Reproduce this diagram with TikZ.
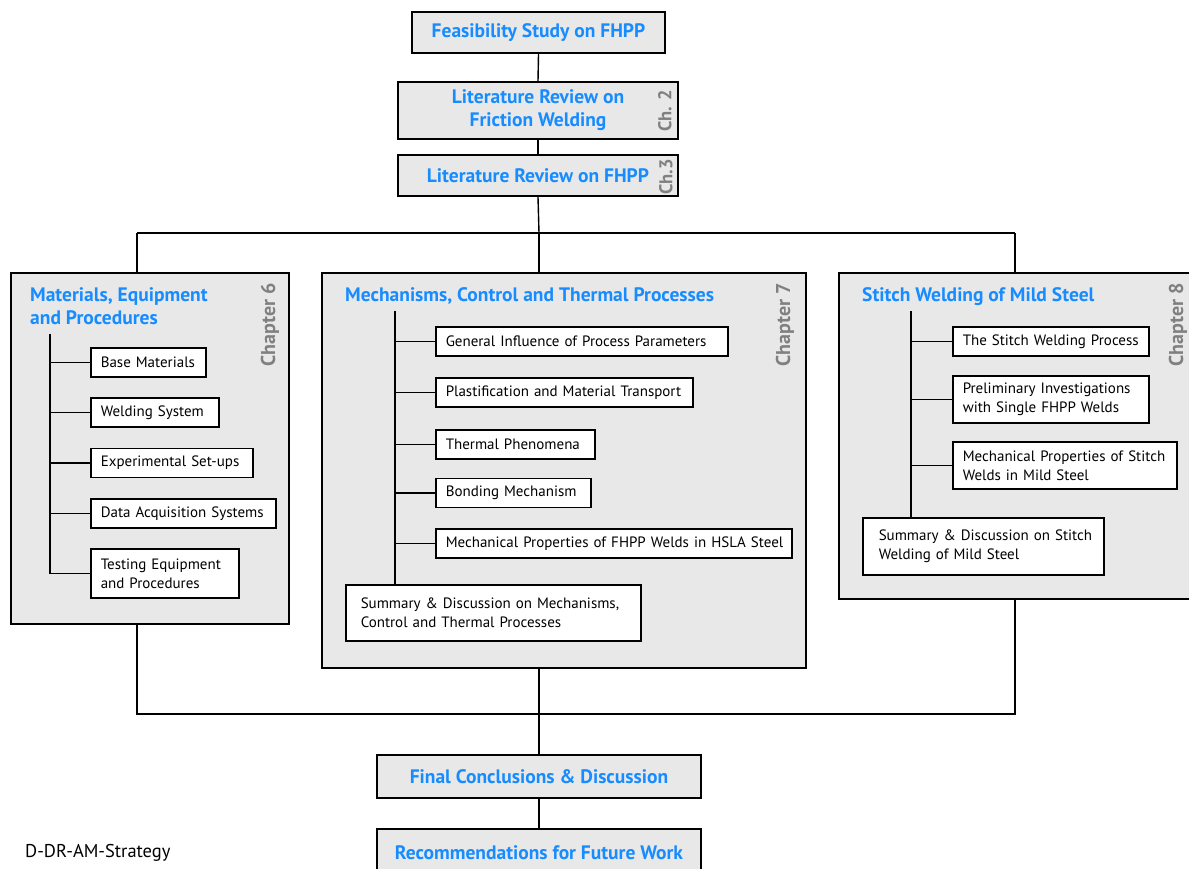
\documentclass[tikz,border=0pt]{standalone}
\usepackage{fontspec}
\setmainfont{PT Sans}
\definecolor{tblue}{RGB}{22,140,255}
\definecolor{boxgray}{RGB}{232,232,232}
\definecolor{chgray}{RGB}{128,128,128}
\begin{document}
\begin{tikzpicture}[x=1pt,y=-1pt,
  topbox/.style={draw=black,line width=2pt,fill=boxgray,font=\fontsize{19.5}{23}\selectfont\bfseries,text=tblue,align=center,inner sep=0pt},
  chapbox/.style={draw=black,line width=2pt,fill=boxgray},
  ctitle/.style={anchor=north west,font=\fontsize{19.5}{23}\selectfont\bfseries,text=tblue,align=left,inner sep=0pt},
  chlabel/.style={rotate=90,font=\fontsize{20}{24}\selectfont\bfseries,text=chgray,inner sep=0pt},
  smlabel/.style={chlabel,font=\fontsize{18.5}{22}\selectfont\bfseries},
  item/.style={draw=black,line width=1.5pt,fill=white,anchor=west,font=\fontsize{15}{19}\selectfont,align=left,inner xsep=10pt,inner ysep=0pt},
  conn/.style={draw=black,line width=1.4pt}
]
\clip (0,0) rectangle (1189,868);
\fill[white] (0,0) rectangle (1189,868);

% top chain
\node[topbox,minimum width=253pt,minimum height=41pt] (feas) at (538.5,32.5) {Feasibility Study on FHPP};
\node[topbox,minimum width=280pt,minimum height=57pt] (lrfw) at (538,110.5) {Literature Review on\\Friction Welding};
\node[smlabel] (ch2) at (665,111) {Ch. 2};
\node[topbox,minimum width=280pt,minimum height=41pt] (lrfhpp) at (538,175.5) {Literature Review on FHPP};
\node[smlabel] (ch3) at (666,177) {Ch.3};
\draw[conn] (feas.south) -- (lrfw.north);
\draw[conn] (lrfw.south) -- (lrfhpp.north);

% chapter boxes
\node[chapbox,anchor=north west,minimum width=278pt,minimum height=351pt] (c6) at (10,272) {};
\node[chapbox,anchor=north west,minimum width=484pt,minimum height=395pt] (c7) at (321,272) {};
\node[chapbox,anchor=north west,minimum width=365pt,minimum height=326pt] (c8) at (838,272) {};

\coordinate (split) at (539,233);
\coordinate (splitL) at (137,233);
\coordinate (splitR) at (1015,233);
\draw[conn] (lrfhpp.south) -- (split);
\draw[conn] (splitL) -- (splitR);
\draw[conn] (splitL) -- (splitL |- c6.north);
\draw[conn] (split) -- (split |- c7.north);
\draw[conn] (splitR) -- (splitR |- c8.north);

% chapter 6
\node[ctitle] (t6) at (30,287) {Materials, Equipment\\and Procedures};
\node[chlabel] (l6) at (270,325) {Chapter 6};
\coordinate (tr6) at (50,334);
\node[item,minimum width=115pt,minimum height=29pt,text width=95pt] (a1) at (90,362.5) {\mbox{Base Materials}};
\node[item,minimum width=128pt,minimum height=29pt,text width=108pt] (a2) at (90,412.5) {\mbox{Welding System}};
\node[item,minimum width=162pt,minimum height=29pt,text width=142pt] (a3) at (90,463) {\mbox{Experimental Set-ups}};
\node[item,minimum width=185pt,minimum height=29pt,text width=165pt] (a4) at (90,513.5) {\mbox{Data Acquisition Systems}};
\node[item,minimum width=148pt,minimum height=49pt,text width=128pt] (a5) at (90,573.5) {\mbox{Testing Equipment}\\\mbox{and Procedures}};
\draw[conn] (tr6) -- (tr6 |- a5.west);
\foreach \n in {a1,a2,a3,a4,a5} \draw[conn] (tr6 |- \n.west) -- (\n.west);

% chapter 7
\node[ctitle] (t7) at (345,287) {Mechanisms, Control and Thermal Processes};
\node[chlabel] (l7) at (785,325) {Chapter 7};
\coordinate (tr7) at (395,311);
\node[item,minimum width=292pt,minimum height=29pt,text width=272pt] (b1) at (435,341.5) {\mbox{General Influence of Process Parameters}};
\node[item,minimum width=257pt,minimum height=29pt,text width=237pt] (b2) at (435,392.5) {\mbox{Plastification and Material Transport}};
\node[item,minimum width=159pt,minimum height=29pt,text width=139pt] (b3) at (435,444.5) {\mbox{Thermal Phenomena}};
\node[item,minimum width=155pt,minimum height=29pt,text width=135pt] (b4) at (435,493) {\mbox{Bonding Mechanism}};
\node[item,minimum width=356pt,minimum height=29pt,text width=336pt] (b5) at (435,543.5) {\mbox{Mechanical Properties of FHPP Welds in HSLA Steel}};
\node[item,minimum width=295pt,minimum height=56pt,inner xsep=15pt,text width=265pt] (b6) at (345,613) {\mbox{Summary \& Discussion on Mechanisms,}\\\mbox{Control and Thermal Processes}};
\draw[conn] (tr7) -- (tr7 |- b6.north);
\foreach \n in {b1,b2,b3,b4,b5} \draw[conn] (tr7 |- \n.west) -- (\n.west);

% chapter 8
\node[ctitle] (t8) at (862,287) {Stitch Welding of Mild Steel};
\node[chlabel] (l8) at (1178,325) {Chapter 8};
\coordinate (tr8) at (911,311);
\node[item,minimum width=196pt,minimum height=29pt,text width=176pt] (d1) at (952,341.5) {\mbox{The Stitch Welding Process}};
\node[item,minimum width=196pt,minimum height=47pt,text width=176pt] (d2) at (952,399.5) {\mbox{Preliminary Investigations}\\\mbox{with Single FHPP Welds}};
\node[item,minimum width=224pt,minimum height=47pt,text width=204pt] (d3) at (952,465.5) {\mbox{Mechanical Properties of Stitch}\\\mbox{Welds in Mild Steel}};
\node[item,minimum width=241pt,minimum height=57pt,inner xsep=16pt,text width=209pt] (d4) at (862,546.5) {\mbox{Summary \& Discussion on Stitch}\\\mbox{Welding of Mild Steel}};
\draw[conn] (tr8) -- (tr8 |- d4.north);
\foreach \n in {d1,d2,d3} \draw[conn] (tr8 |- \n.west) -- (\n.west);

% merge
\coordinate (mergeL) at (137,714);
\coordinate (merge) at (539,714);
\coordinate (mergeR) at (1015,714);
\draw[conn] (mergeL |- c6.south) -- (mergeL) -- (mergeR) -- (mergeR |- c8.south);
\draw[conn] (merge |- c7.south) -- (merge);

\node[topbox,minimum width=324pt,minimum height=43pt] (fin) at (539,776.5) {Final Conclusions \& Discussion};
\node[topbox,minimum width=324pt,minimum height=47pt,anchor=north] (rec) at (539,828) {Recommendations for Future Work};
\draw[conn] (merge) -- (fin.north);
\draw[conn] (fin.south) -- (rec.north);

\node[anchor=west,font=\fontsize{18.5}{22}\selectfont,inner sep=0pt] (tag) at (25,853) {D-DR-AM-Strategy};
\end{tikzpicture}
\end{document}
